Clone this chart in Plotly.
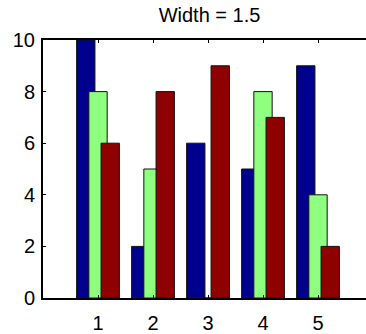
import plotly.graph_objects as go

# Grouped bar data: three series over five groups
groups = [1, 2, 3, 4, 5]
series_a = [10, 2, 6, 5, 9]
series_b = [8, 5, 0, 8, 4]
series_c = [6, 8, 9, 7, 2]
x_ticks = [1, 2, 3, 4, 5]
y_ticks = [0, 2, 4, 6, 8, 10]

colors = ["#00008F", "#8FFF80", "#8F0000"]
group_width = 3 / (3 + 1.5)
spacing = group_width / 3
bar_width = 1.5 * spacing
offsets = [-spacing, 0.0, spacing]

fig = go.Figure()
for vals, off, col in zip([series_a, series_b, series_c], offsets, colors):
    fig.add_trace(go.Bar(
        x=[g + off for g in groups],
        y=vals,
        width=bar_width,
        marker=dict(color=col, line=dict(color="#111111", width=1)),
        showlegend=False,
    ))

font = "Liberation Sans, Arial, sans-serif"
fig.update_layout(
    width=366, height=334,
    margin=dict(l=43, r=0, t=40, b=34),
    barmode="overlay",
    plot_bgcolor="white", paper_bgcolor="white",
    font=dict(family=font, size=20, color="black"),
    title=dict(text="Width = 1.5", x=209.5 / 366, xref="container", xanchor="center",
               y=1 - 14.5 / 334, yref="container", yanchor="middle",
               font=dict(family=font, size=20, color="black")),
    xaxis=dict(range=[0, 323 / 55], tickvals=x_ticks, ticks="inside", ticklen=3,
               tickcolor="black", showline=True, linecolor="black", linewidth=2,
               mirror="ticks", showgrid=False, zeroline=False, ticklabelstandoff=6),
    yaxis=dict(range=[0, 10], tickvals=y_ticks, ticks="inside", ticklen=3,
               tickcolor="black", showline=True, linecolor="black", linewidth=2,
               mirror=False, showgrid=False, zeroline=False, ticklabelstandoff=2),
)

fig.write_html("out.html")
